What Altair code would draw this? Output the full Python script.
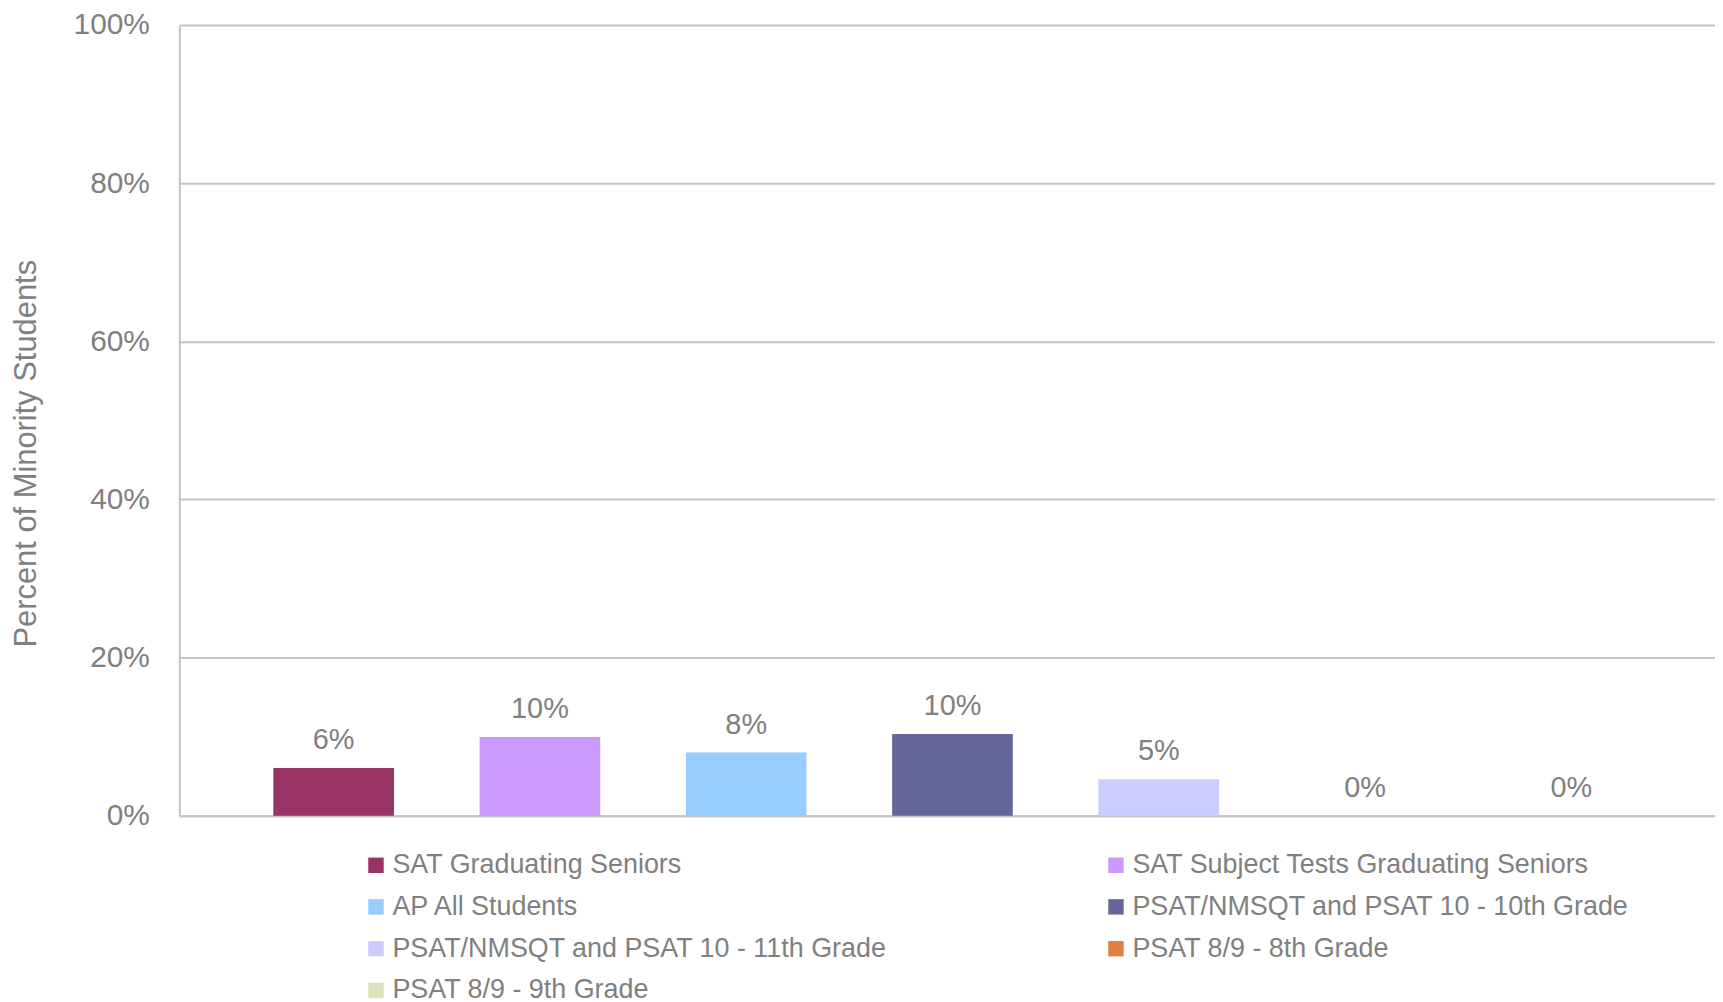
import altair as alt
import pandas as pd

categories = [
    "SAT Graduating Seniors",
    "SAT Subject Tests Graduating Seniors",
    "AP All Students",
    "PSAT/NMSQT and PSAT 10 - 10th Grade",
    "PSAT/NMSQT and PSAT 10 - 11th Grade",
    "PSAT 8/9 - 8th Grade",
    "PSAT 8/9 - 9th Grade",
]
values = [0.0605, 0.0995, 0.080, 0.1035, 0.046, 0.0, 0.0]
colors = ["#993366", "#cc99ff", "#99ccff", "#666699", "#ccccff", "#dd8040", "#d9e4bf"]
y_ticks = [0, 0.2, 0.4, 0.6, 0.8, 1.0]

df = pd.DataFrame({"category": categories, "value": values})

GRAY = "#808080"
GRID = "#c4c4c4"

x = alt.X("category:N", sort=categories,
          scale=alt.Scale(paddingInner=0.415, paddingOuter=0.43, align=0.53),
          axis=alt.Axis(labels=False, ticks=False, title=None, domain=True,
                        domainColor=GRID, domainWidth=2))
y = alt.Y("value:Q",
          scale=alt.Scale(domain=[0, 1], nice=False),
          axis=alt.Axis(values=y_ticks, format=".0%", title="Percent of Minority Students",
                        labelFont="Liberation Sans", labelFontSize=30, labelColor=GRAY,
                        labelPadding=30, ticks=False, domainColor=GRID, domainWidth=2,
                        gridColor=GRID, gridWidth=2,
                        titleFont="Liberation Sans", titleFontSize=31, titleFontWeight="normal",
                        titleColor=GRAY, titlePadding=31, titleY=430))

bars = alt.Chart(df).mark_bar().encode(
    x=x, y=y,
    color=alt.Color("category:N", sort=categories,
                    scale=alt.Scale(domain=categories, range=colors),
                    legend=alt.Legend(title=None, orient="none", legendX=184, legendY=830,
                                      columns=2, direction="horizontal",
                                      symbolType="square", symbolSize=240,
                                      symbolStrokeWidth=0,
                                      labelFont="Liberation Sans", labelFontSize=27,
                                      labelColor=GRAY, labelLimit=700, rowPadding=14,
                                      columnPadding=216, symbolOffset=0, labelOffset=3)),
)

labels = alt.Chart(df).mark_text(baseline="bottom", dy=-13, font="Liberation Sans",
                                 fontSize=29, color=GRAY).encode(
    x=alt.X("category:N", sort=categories),
    y="value:Q",
    text=alt.Text("value:Q", format=".0%"),
)

chart = alt.layer(bars, labels).properties(
    width=1542, height=794,
    padding={"left": 2, "top": 0, "right": 0, "bottom": 0},
).configure_view(stroke=None).configure(background="white")

chart.save("out.html", embed_options={"renderer": "svg", "actions": False})
